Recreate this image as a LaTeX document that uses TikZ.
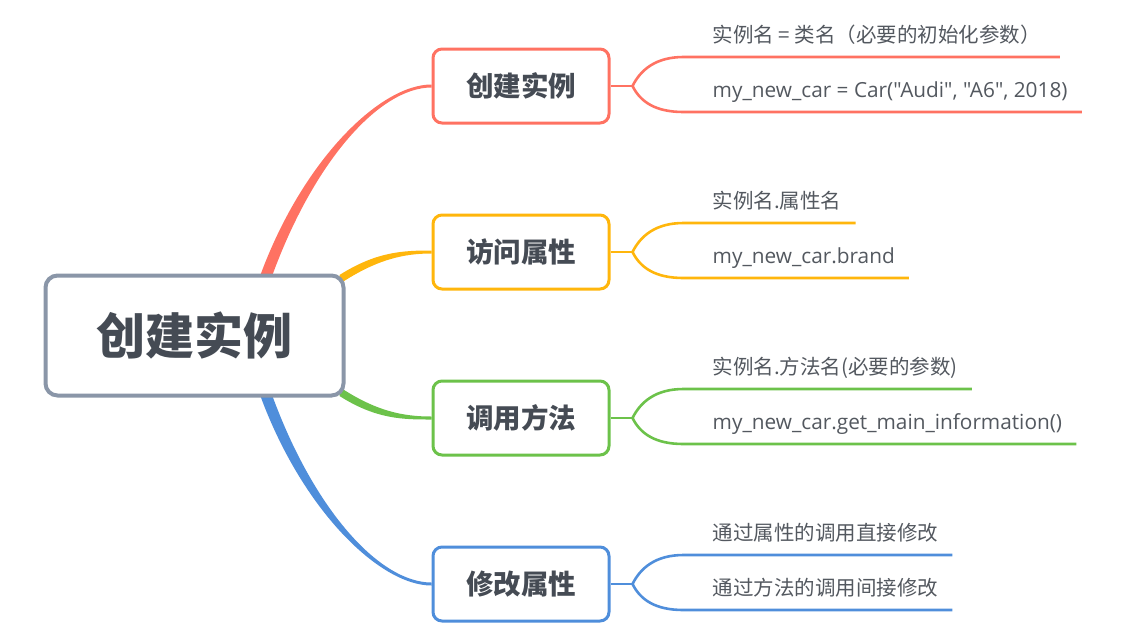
\documentclass[tikz,border=0pt]{standalone}
\usepackage{fontspec}
\setmainfont{Open Sans}
\newfontfamily\codefont{Open Sans}
\newfontfamily\cjk{Noto Sans CJK SC}
\usetikzlibrary{calc, backgrounds}
\definecolor{cred}{HTML}{FF7262}
\definecolor{cyellow}{HTML}{FFB60C}
\definecolor{cgreen}{HTML}{6CC24A}
\definecolor{cblue}{HTML}{4F8EDB}
\definecolor{cgray}{HTML}{8A96A8}
\definecolor{ctext}{HTML}{454B54}
\definecolor{cleaf}{HTML}{53585F}

\begin{document}
\begin{tikzpicture}[
        x=1pt, y=-1pt,
        rootbox/.style={draw=cgray, line width=4pt, rounded corners=12pt, fill=white,
                        minimum width=298pt, minimum height=120pt, inner sep=0pt,
                        font=\cjk\bfseries\fontsize{49}{53}\selectfont, text=ctext},
        branchbox/.style={line width=3pt, rounded corners=9pt, fill=white,
                          minimum width=176pt, minimum height=74pt, inner sep=0pt,
                          font=\cjk\bfseries\fontsize{27.5}{31}\selectfont, text=ctext},
        leaf/.style={anchor=base west, inner sep=0pt, text=cleaf,
                     font=\codefont\fontsize{20.8}{24}\selectfont},
        leafcn/.style={leaf, font=\cjk\fontsize{20.5}{24}\selectfont},
        subline/.style={line width=2.6pt}
    ]
      \useasboundingbox (0,0) rectangle (1121,638);

      % --- Root ---
      \node[rootbox] (root) at (194.5,335.5) {创建实例};

      % --- Branch boxes ---
      \node[branchbox, draw=cred] (b1) at (521,86) {创建实例};
      \node[branchbox, draw=cyellow] (b2) at (521,252) {访问属性};
      \node[branchbox, draw=cgreen] (b3) at (521,418) {调用方法};
      \node[branchbox, draw=cblue] (b4) at (521,584) {修改属性};

      % --- Tapered main branches (behind the root) ---
      \coordinate (r1) at ($(root.north west)+(222,4)$);
      \coordinate (r2) at ($(root.north east)+(-6,6)$);
      \coordinate (r3) at ($(root.south east)+(-6,-6)$);
      \coordinate (r4) at ($(root.south west)+(222,-4)$);
      \begin{scope}[on background layer]
        \fill[cred] ($(r1)+(-6,0)$) .. controls ($(r1)+(36,-116)$) and ($(b1.west)+(-52,-1.5)$) .. ($(b1.west)+(0,-1.5)$)
          -- ($(b1.west)+(0,1.5)$) .. controls ($(b1.west)+(-52,1.5)$) and ($(r1)+(48,-116)$) .. ($(r1)+(6,0)$) -- cycle;
        \fill[cyellow] ($(r2)+(0,-4.5)$) .. controls ($(r2)+(37,-28)$) and ($(b2.west)+(-28,-1.5)$) .. ($(b2.west)+(0,-1.5)$)
          -- ($(b2.west)+(0,1.5)$) .. controls ($(b2.west)+(-28,1.5)$) and ($(r2)+(37,-20)$) .. ($(r2)+(0,4.5)$) -- cycle;
        \fill[cgreen] ($(r3)+(0,4.5)$) .. controls ($(r3)+(37,28)$) and ($(b3.west)+(-28,1.5)$) .. ($(b3.west)+(0,1.5)$)
          -- ($(b3.west)+(0,-1.5)$) .. controls ($(b3.west)+(-28,-1.5)$) and ($(r3)+(37,20)$) .. ($(r3)+(0,-4.5)$) -- cycle;
        \fill[cblue] ($(r4)+(-6,0)$) .. controls ($(r4)+(36,116)$) and ($(b4.west)+(-52,1.5)$) .. ($(b4.west)+(0,1.5)$)
          -- ($(b4.west)+(0,-1.5)$) .. controls ($(b4.west)+(-52,-1.5)$) and ($(r4)+(48,116)$) .. ($(r4)+(6,0)$) -- cycle;
      \end{scope}

      % --- Branch 1 leaves ---
      \coordinate (f1) at ($(b1.east)+(22,0)$);
      \node[leafcn] (l1a) at ($(f1)+(80,-44)$) {实例名 = 类名（必要的初始化参数）};
      \node[leaf] (l1b) at ($(f1)+(80,11)$) {my\_new\_car = Car("Audi", "A6", 2018)};
      \draw[subline, cred] (b1.east) -- (f1);
      \draw[subline, cred] (f1) .. controls +(8,-16) and +(-28,0) .. ($(f1)+(51,-29)$) -- ($(l1a.base east)+(19,15)$);
      \draw[subline, cred] (f1) .. controls +(8,16) and +(-28,0) .. ($(f1)+(51,26)$) -- ($(l1b.base east)+(14,15)$);

      % --- Branch 2 leaves ---
      \coordinate (f2) at ($(b2.east)+(22,0)$);
      \node[leafcn] (l2a) at ($(f2)+(80,-44)$) {实例名.属性名};
      \node[leaf] (l2b) at ($(f2)+(80,11)$) {my\_new\_car.brand};
      \draw[subline, cyellow] (b2.east) -- (f2);
      \draw[subline, cyellow] (f2) .. controls +(8,-16) and +(-28,0) .. ($(f2)+(51,-29)$) -- ($(l2a.base east)+(14,15)$);
      \draw[subline, cyellow] (f2) .. controls +(8,16) and +(-28,0) .. ($(f2)+(51,26)$) -- ($(l2b.base east)+(14,15)$);

      % --- Branch 3 leaves ---
      \coordinate (f3) at ($(b3.east)+(22,0)$);
      \node[leafcn] (l3a) at ($(f3)+(80,-44)$) {实例名.方法名(必要的参数)};
      \node[leaf] (l3b) at ($(f3)+(80,11)$) {my\_new\_car.get\_main\_information()};
      \draw[subline, cgreen] (b3.east) -- (f3);
      \draw[subline, cgreen] (f3) .. controls +(8,-16) and +(-28,0) .. ($(f3)+(51,-29)$) -- ($(l3a.base east)+(14,15)$);
      \draw[subline, cgreen] (f3) .. controls +(8,16) and +(-28,0) .. ($(f3)+(51,26)$) -- ($(l3b.base east)+(14,15)$);

      % --- Branch 4 leaves ---
      \coordinate (f4) at ($(b4.east)+(22,0)$);
      \node[leafcn] (l4a) at ($(f4)+(80,-44)$) {通过属性的调用直接修改};
      \node[leafcn] (l4b) at ($(f4)+(80,11)$) {通过方法的调用间接修改};
      \draw[subline, cblue] (b4.east) -- (f4);
      \draw[subline, cblue] (f4) .. controls +(8,-16) and +(-28,0) .. ($(f4)+(51,-29)$) -- ($(l4a.base east)+(14,15)$);
      \draw[subline, cblue] (f4) .. controls +(8,16) and +(-28,0) .. ($(f4)+(51,26)$) -- ($(l4b.base east)+(14,15)$);
    \end{tikzpicture}
\end{document}
